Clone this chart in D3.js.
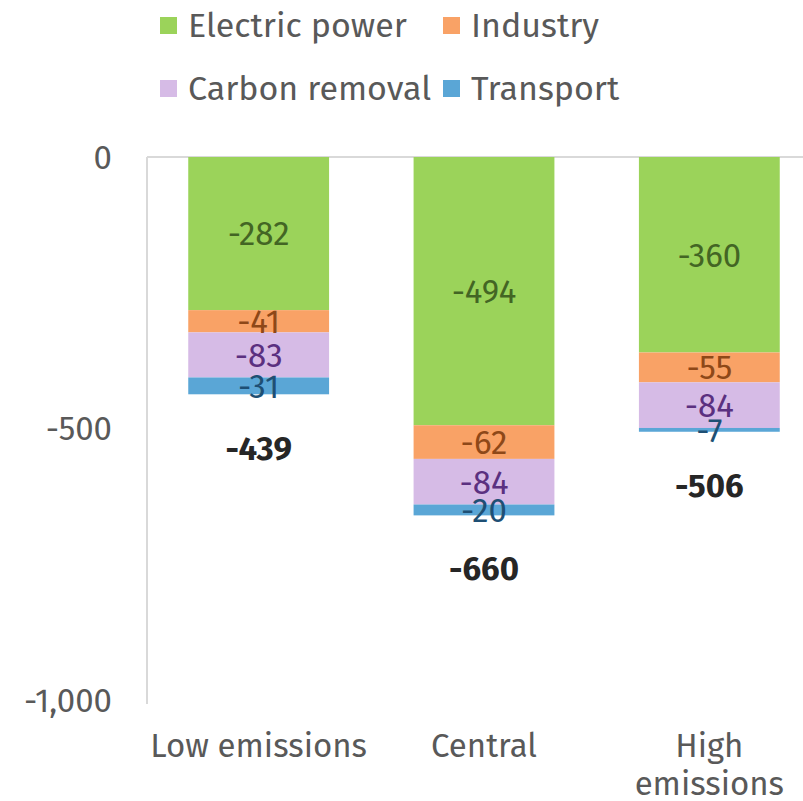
<!DOCTYPE html>
<html><head><meta charset="utf-8">
<script src="https://cdn.jsdelivr.net/npm/d3@7"></script>
<style>body{margin:0;background:#fff}svg{display:block}text{font-family:"Fira Sans","Noto Sans","Open Sans",sans-serif}</style>
</head><body><svg id="c" width="803" height="801"></svg>
<script>
const categories = ["Low emissions", "Central", "High emissions"];
const seriesNames = ["Electric power", "Industry", "Carbon removal", "Transport"];
const electricPower = [-282, -494, -360];
const industry = [-41, -62, -55];
const carbonRemoval = [-83, -84, -84];
const transport = [-31, -20, -7];
const totals = [-439, -660, -506];
const yTicks = [0, -500, -1000];

const colors = ["#9bd35a", "#f9a266", "#d6bbe6", "#5aa6d6"];
const labelColors = ["#436524", "#8e4818", "#5b3080", "#1e4f74"];

const svg = d3.select("#c");
const y = d3.scaleLinear().domain([0, -1000]).range([157, 700]);
const x = d3.scaleBand().domain(categories).range([146, 822]).paddingInner(0.375).paddingOuter(0.1875);

const seriesVals = [electricPower, industry, carbonRemoval, transport];
const rows = categories.map((c, i) => {
  const o = {cat: c};
  seriesNames.forEach((s, j) => o[s] = -seriesVals[j][i]);
  return o;
});
const stack = d3.stack().keys(seriesNames)(rows);

// axis line & zero line
svg.append("line").attr("x1", 147).attr("x2", 147).attr("y1", y(0)).attr("y2", y(-1000) + 4)
  .attr("stroke", "#d9d9d9").attr("stroke-width", 2);
svg.append("line").attr("x1", 147).attr("x2", 803).attr("y1", y(0)).attr("y2", y(0))
  .attr("stroke", "#d9d9d9").attr("stroke-width", 2);

const fmt = d => d3.format(",")(d).replace("\u2212", "-");

// y tick labels
svg.selectAll(".yt").data(yTicks).enter().append("text")
  .attr("x", 112).attr("y", d => y(d)).attr("dy", "0.35em").attr("text-anchor", "end")
  .attr("font-size", 33).attr("fill", "#595959")
  .text(fmt);

// bars
stack.forEach((layer, j) => {
  const g = svg.append("g");
  g.selectAll("rect").data(layer).enter().append("rect")
    .attr("x", d => x(d.data.cat)).attr("width", x.bandwidth())
    .attr("y", d => y(-d[0])).attr("height", d => y(-d[1]) - y(-d[0]))
    .attr("fill", colors[j]);
});
stack.forEach((layer, j) => {
  svg.append("g").selectAll("text").data(layer).enter().append("text")
    .attr("x", d => x(d.data.cat) + x.bandwidth() / 2)
    .attr("y", d => (y(-d[0]) + y(-d[1])) / 2).attr("dy", "0.36em")
    .attr("text-anchor", "middle").attr("font-size", 33).attr("fill", labelColors[j])
    .text((d, i) => seriesVals[j][i]);
});

// totals
svg.selectAll(".tot").data(totals).enter().append("text")
  .attr("x", (d, i) => x(categories[i]) + x.bandwidth() / 2)
  .attr("y", d => y(d) + 53).attr("dy", "0.36em").attr("text-anchor", "middle")
  .attr("font-size", 33).attr("font-weight", "bold").attr("fill", "#262626")
  .text(d => d);

// category labels
categories.forEach((c, i) => {
  const cx = x(c) + x.bandwidth() / 2;
  const words = c === "High emissions" ? ["High", "emissions"] : [c];
  words.forEach((w, k) => {
    svg.append("text").attr("x", cx).attr("y", 757 + k * 38).attr("text-anchor", "middle")
      .attr("font-size", 33).attr("fill", "#595959").text(w);
  });
});

// legend
const legendPos = [[160, 25], [443, 25], [160, 88], [443, 88]];
seriesNames.forEach((s, j) => {
  const [lx, ly] = legendPos[j];
  const lg = svg.append("g");
  lg.append("rect").attr("x", lx).attr("y", ly - 8).attr("width", 17).attr("height", 17).attr("fill", colors[j]);
  lg.append("text").attr("x", lx + 28).attr("y", ly).attr("dy", "0.35em")
    .attr("font-size", 34).attr("fill", "#595959").text(s);
});
</script></body></html>
